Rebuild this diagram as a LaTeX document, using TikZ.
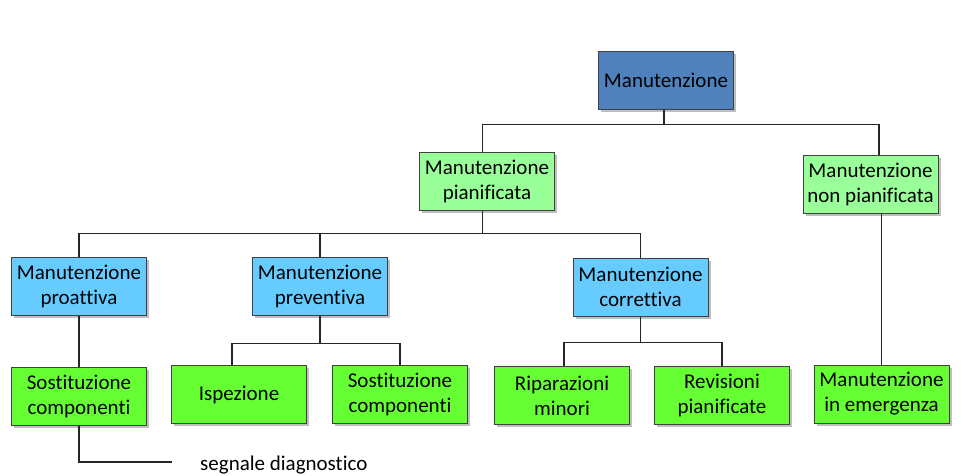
\documentclass[tikz,border=0pt]{standalone}
\usepackage{fontspec}
\setmainfont{Carlito}[RawFeature={-liga}]
\usetikzlibrary{positioning, calc, shadows}

\definecolor{blusc}{RGB}{79,129,189}
\definecolor{verdechiaro}{RGB}{153,255,153}
\definecolor{azzurro}{RGB}{102,204,255}
\definecolor{verdeacceso}{RGB}{102,255,51}

\begin{document}
\begin{tikzpicture}[
		x=1pt, y=1pt,
		% Stili dei blocchi
		blocco/.style={draw=black!75, line width=1pt, rectangle, minimum width=135pt, minimum height=58pt, inner sep=2pt, align=center, font=\fontsize{21}{25}\selectfont, drop shadow={shadow xshift=2.5pt, shadow yshift=-2.5pt, fill=black, opacity=0.25}},
		radice/.style={blocco, fill=blusc},
		ramo/.style={blocco, fill=verdechiaro},
		tipo/.style={blocco, fill=azzurro},
		azione/.style={blocco, fill=verdeacceso},
		% Stile delle linee e del testo libero
		linea/.style={draw=black!85, line width=1.1pt},
		testo/.style={font=\fontsize{21}{25}\selectfont, inner sep=0pt}
		]
		
		\useasboundingbox (0,0) rectangle (963,475);
		
		% --- RADICE ---
		\node[radice] (manut) at (666,394.5) {Manutenzione};
		
		% --- PRIMO LIVELLO ---
		\node[ramo] (pian) at (487,293.5) {Manutenzione\\pianificata};
		\node[ramo] (nonpian) at (870.5,290.5) {Manutenzione\\non pianificata};
		
		% --- SECONDO LIVELLO ---
		\node[tipo] (proat) at (79,188.5) {Manutenzione\\proattiva};
		\node[tipo] (prev) at (320,189) {Manutenzione\\preventiva};
		\node[tipo] (corr) at (640.5,188) {Manutenzione\\correttiva};
		
		% --- AZIONI ---
		\node[azione, below=51pt of proat] (sost1) {Sostituzione\\componenti};
		\node[azione] (isp) at (239,80.5) {Ispezione};
		\node[azione, right=25pt of isp] (sost2) {Sostituzione\\componenti};
		\node[azione] (ripar) at (562,79.5) {Riparazioni\\minori};
		\node[azione, right=24pt of ripar] (revis) {Revisioni\\pianificate};
		\node[azione] (emerg) at (881.5,81) {Manutenzione\\in emergenza};
		
		% --- COLLEGAMENTI ---
		\draw[linea] ([xshift=-2pt]manut.south) -- ++(0,-14.5) coordinate (bus1) -| ([xshift=-4.5pt]pian.north);
		\draw[linea] (bus1) -| ([xshift=8.5pt]nonpian.north);
		
		\draw[linea] ([xshift=-4.5pt]pian.south) -- ++(0,-22.5) coordinate (bus2) -| (proat.north);
		\draw[linea] (bus2) -| (prev.north);
		\draw[linea] (bus2) -| (corr.north);
		
		\draw[linea] (prev.south) -- ++(0,-28) coordinate (bus3) -| ([xshift=-7pt]isp.north);
		\draw[linea] (bus3) -| (sost2.north);
		
		\draw[linea] (corr.south) -- ++(0,-26) coordinate (bus4) -| ([xshift=2pt]ripar.north);
		\draw[linea] (bus4) -| (revis.north);
		
		\draw[linea] (proat) -- (sost1);
		\draw[linea] (emerg.north) -- (emerg.north |- nonpian.south);
		
		% Segnale diagnostico
		\node[testo, anchor=base west] (segnale) at (200,5) {segnale diagnostico};
		\coordinate (diag) at ($(segnale.base west)+(-28,8)$);
		\draw[linea] (sost1.south) |- (diag);
		
	\end{tikzpicture}
\end{document}
